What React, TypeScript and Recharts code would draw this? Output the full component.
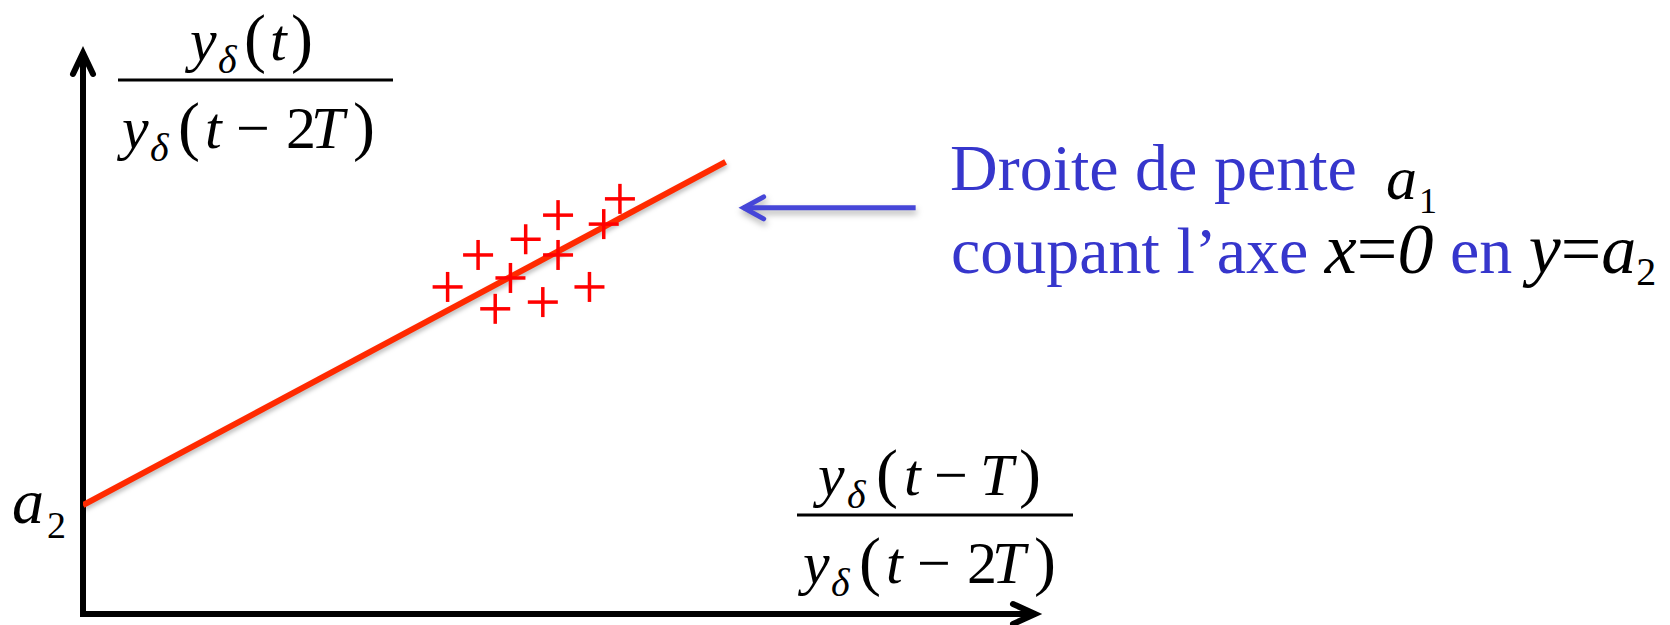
import { ComposedChart, XAxis, YAxis, Line, Scatter, ReferenceLine } from "recharts";

// Fitted line: intercept a2 at x = 0, slope a1
const fitLine = [
  { x: 0, y: 1.94 },
  { x: 6.75, y: 8.06 },
];

// Measured ratios (plus markers)
const samples = [
  { x: 3.83, y: 5.83 },
  { x: 4.15, y: 6.4 },
  { x: 4.33, y: 5.44 },
  { x: 4.49, y: 5.99 },
  { x: 4.65, y: 6.68 },
  { x: 4.83, y: 5.56 },
  { x: 4.99, y: 7.11 },
  { x: 4.99, y: 6.4 },
  { x: 5.32, y: 5.83 },
  { x: 5.47, y: 6.95 },
  { x: 5.64, y: 7.4 },
];

const xDomain = [0, 10];
const yDomain = [0, 10];

// Axes and the annotation pointer, in data units
const xAxisSeg = [{ x: 0, y: 0 }, { x: 10, y: 0 }];
const yAxisSeg = [{ x: 0, y: 0 }, { x: 0, y: 10 }];
const pointerSeg = [{ x: 8.72, y: 7.24 }, { x: 6.94, y: 7.24 }];

const W = 1670;
const H = 625;
const SERIF = "'Liberation Serif', 'Times New Roman', serif";
const BLUE = "#3636cc";
const RED_LINE = "#ff2a00";
const RED_MARK = "#ff0000";

function arrowShape(color: string, width: number, head: number, spread: number, shadow?: string) {
  return (p: any) => {
    const { x1, y1, x2, y2 } = p;
    const len = Math.hypot(x2 - x1, y2 - y1) || 1;
    const ux = (x2 - x1) / len;
    const uy = (y2 - y1) / len;
    const bx = x2 - ux * head;
    const by = y2 - uy * head;
    return (
      <g style={shadow ? { filter: shadow } : undefined}>
        <line x1={x1} y1={y1} x2={x2 - ux * 2} y2={y2 - uy * 2} stroke={color} strokeWidth={width} strokeLinecap="square" />
        <polyline
          points={`${bx - uy * spread},${by + ux * spread} ${x2},${y2} ${bx + uy * spread},${by - ux * spread}`}
          fill="none"
          stroke={color}
          strokeWidth={width}
          strokeLinecap="round"
          strokeLinejoin="miter"
        />
      </g>
    );
  };
}

const PlusMark = (props: any) => {
  const { cx, cy } = props;
  if (cx == null || cy == null) return <g />;
  const r = 15;
  return (
    <g stroke={RED_MARK} strokeWidth={3.5}>
      <line x1={cx - r} y1={cy} x2={cx + r} y2={cy} />
      <line x1={cx} y1={cy - r} x2={cx} y2={cy + r} />
    </g>
  );
};

type Piece = { t: string; x: number; it?: boolean; sub?: boolean; big?: boolean };

const numX: Piece[] = [
  { t: "y", x: 0, it: true },
  { t: "δ", x: 29, it: true, sub: true },
  { t: "(", x: 58, big: true },
  { t: "t", x: 86, it: true },
  { t: "−", x: 116 },
  { t: "T", x: 162, it: true },
  { t: ")", x: 201, big: true },
];

const numY: Piece[] = [
  { t: "y", x: 0, it: true },
  { t: "δ", x: 28, it: true, sub: true },
  { t: "(", x: 54, big: true },
  { t: "t", x: 80, it: true },
  { t: ")", x: 101, big: true },
];

const den: Piece[] = [
  { t: "y", x: 0, it: true },
  { t: "δ", x: 28, it: true, sub: true },
  { t: "(", x: 56, big: true },
  { t: "t", x: 83, it: true },
  { t: "−", x: 114 },
  { t: "2", x: 164 },
  { t: "T", x: 189, it: true },
  { t: ")", x: 231, big: true },
];

function MathRow({ pieces, x, y }: { pieces: Piece[]; x: number; y: number }) {
  return (
    <text fontFamily={SERIF} fill="#000" fontSize={60}>
      {pieces.map((p, i) => (
        <tspan
          key={i}
          x={x + p.x}
          y={y + (p.sub ? 13 : 0)}
          fontStyle={p.it ? "italic" : "normal"}
          fontSize={p.sub ? 40 : p.big ? 66 : 60}
        >
          {p.t}
        </tspan>
      ))}
    </text>
  );
}

function Fraction({ num, numX0, denX0, barX1, barX2, barY }: {
  num: Piece[]; numX0: number; denX0: number; barX1: number; barX2: number; barY: number;
}) {
  return (
    <g>
      <MathRow pieces={num} x={numX0} y={barY - 20} />
      <line x1={barX1} y1={barY} x2={barX2} y2={barY} stroke="#000" strokeWidth={3} />
      <MathRow pieces={den} x={denX0} y={barY + 68} />
    </g>
  );
}

function Labels() {
  return (
    <svg width={W} height={H} style={{ position: "absolute", left: 0, top: 0, pointerEvents: "none" }}>
      {/* vertical axis title */}
      <Fraction num={numY} numX0={190} denX0={122} barX1={118} barX2={393} barY={80} />
      {/* horizontal axis title */}
      <Fraction num={numX} numX0={818} denX0={803} barX1={797} barX2={1073} barY={515} />

      {/* intercept label */}
      <text fontFamily={SERIF} fill="#000">
        <tspan x={12} y={523} fontSize={64} fontStyle="italic">a</tspan>
        <tspan x={47} y={538} fontSize={38}>2</tspan>
      </text>

      {/* annotation */}
      <text fontFamily={SERIF} fontSize={66} fill={BLUE}>
        <tspan x={950} y={190}>Droite de pente</tspan>
        <tspan x={1386} y={199} fontSize={62} fontStyle="italic" fill="#000">a</tspan>
        <tspan x={1419} y={213} fontSize={36} fill="#000">1</tspan>
      </text>
      <text fontFamily={SERIF} fontSize={66} fill={BLUE} x={951} y={273}>
        coupant l’axe{" "}
        <tspan fill="#000" fontFamily={SERIF} fontStyle="italic" fontSize={72}>x</tspan>
        <tspan fill="#000" fontFamily={SERIF} fontSize={72}>=</tspan>
        <tspan fill="#000" fontFamily={SERIF} fontStyle="italic" fontSize={72}>0</tspan>
        <tspan> en </tspan>
        <tspan fill="#000" fontFamily={SERIF} fontStyle="italic" fontSize={72}>y</tspan>
        <tspan fill="#000" fontFamily={SERIF} fontSize={72}>=</tspan>
        <tspan fill="#000" fontFamily={SERIF} fontStyle="italic" fontSize={70}>a</tspan>
        <tspan fill="#000" fontFamily={SERIF} fontSize={40} dy={12}>2</tspan>
      </text>
    </svg>
  );
}

export default function App() {
  return (
    <div style={{ position: "absolute", left: 0, top: 0, width: W, height: H, background: "#fff" }}>
      <ComposedChart width={W} height={H} margin={{ top: 53, right: 635, bottom: 11, left: 83 }}>
        <XAxis type="number" dataKey="x" domain={xDomain} hide allowDataOverflow />
        <YAxis type="number" dataKey="y" domain={yDomain} hide allowDataOverflow />
        <ReferenceLine segment={xAxisSeg} ifOverflow="visible" shape={arrowShape("#000", 6, 22, 10)} />
        <ReferenceLine segment={yAxisSeg} ifOverflow="visible" shape={arrowShape("#000", 6, 21, 10)} />
        <ReferenceLine
          segment={pointerSeg}
          ifOverflow="visible"
          shape={arrowShape("#4646d8", 5, 20, 11, "drop-shadow(1px 4px 3px rgba(0,0,0,0.3))")}
        />
        <Line
          data={fitLine}
          dataKey="y"
          type="linear"
          stroke={RED_LINE}
          strokeWidth={6}
          dot={false}
          activeDot={false}
          isAnimationActive={false}
          style={{ filter: "drop-shadow(1px 3px 2px rgba(0,0,0,0.25))" }}
        />
        <Scatter data={samples} shape={PlusMark} isAnimationActive={false} />
      </ComposedChart>
      <Labels />
    </div>
  );
}
